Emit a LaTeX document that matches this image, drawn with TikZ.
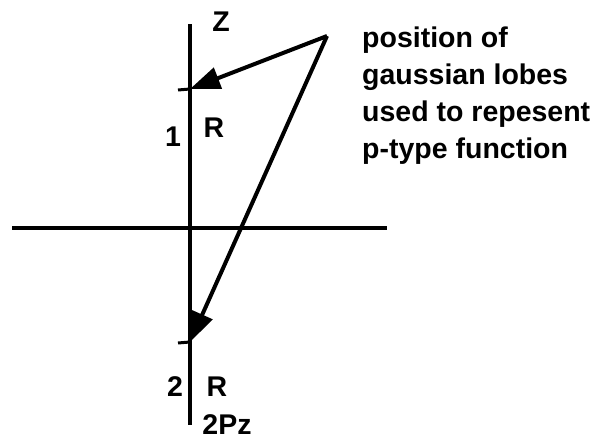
\documentclass[tikz,border=0pt]{standalone}
\usepackage{fontspec}
\setmainfont{Liberation Sans}
\usetikzlibrary{arrows.meta}
\begin{document}
\begin{tikzpicture}[x=1pt, y=-1pt,
  ax/.style={line width=3.6pt},
  tick/.style={line width=3pt},
  lobe/.style={line width=4pt, -{Triangle[length=30pt, width=22pt]}},
  lbl/.style={font=\fontsize{28.5}{34}\selectfont\bfseries, inner sep=0pt},
]
  \useasboundingbox (0,0) rectangle (600,442);
  % axes
  \coordinate (ztop) at (190,24);
  \coordinate (zbot) at (190,425);
  \coordinate (xl) at (12,228);
  \coordinate (xr) at (387,228);
  \draw[ax] (ztop) -- (zbot);
  \draw[ax] (xl) -- (xr);
  % lobe positions on the z axis
  \coordinate (L1) at (190,89);  \coordinate (L1t) at (178,90);
  \coordinate (L2) at (190,342); \coordinate (L2t) at (178,343);
  \draw[tick] (L1t) -- (L1);
  \draw[tick] (L2t) -- (L2);
  % pointers from the note
  \coordinate (P) at (327,36);
  \draw[lobe] (P) -- (L1);
  \draw[lobe] (P) -- (L2);
  % axis labels
  \node[lbl] (zlbl) at (221,22) {Z};
  \node[lbl] (one)  at (173,137) {1};
  \node[lbl] (rone) at (214,128) {R};
  \node[lbl] (two)  at (175,387) {2};
  \node[lbl] (rtwo) at (217,387) {R};
  \node[lbl] (pz)   at (227,425) {2Pz};
  % note
  \foreach \t/\yb [count=\i] in {position of/47, gaussian lobes/84, used to repesent/121, p-type function/158}
    \node[lbl, anchor=base west] (note\i) at (362,\yb) {\t};
\end{tikzpicture}
\end{document}
